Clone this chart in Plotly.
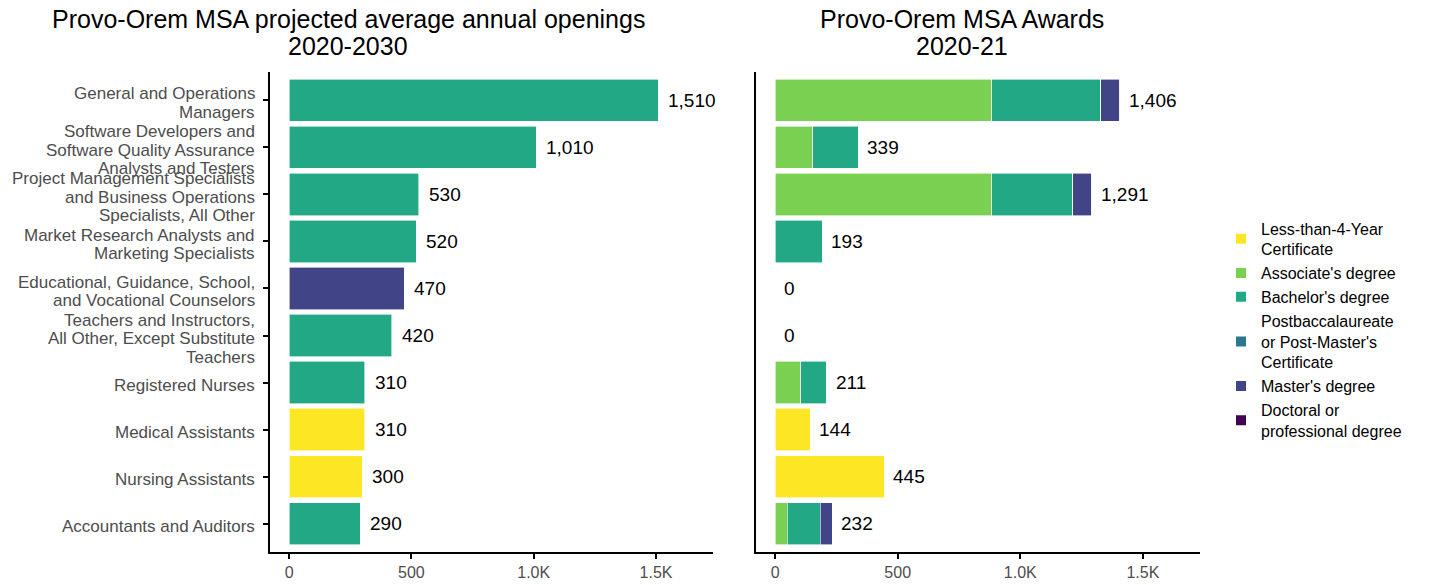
import plotly.graph_objects as go

W, H = 1430, 585

occupations = [
    "General and Operations<br>Managers",
    "Software Developers and<br>Software Quality Assurance<br>Analysts and Testers",
    "Project Management Specialists<br>and Business Operations<br>Specialists, All Other",
    "Market Research Analysts and<br>Marketing Specialists",
    "Educational, Guidance, School,<br>and Vocational Counselors",
    "Teachers and Instructors,<br>All Other, Except Substitute<br>Teachers",
    "Registered Nurses",
    "Medical Assistants",
    "Nursing Assistants",
    "Accountants and Auditors",
]

openings = [1510, 1010, 530, 520, 470, 420, 310, 310, 300, 290]
opening_level = ["Bachelor's degree", "Bachelor's degree", "Bachelor's degree", "Bachelor's degree",
                 "Master's degree", "Bachelor's degree", "Bachelor's degree",
                 "Less-than-4-Year Certificate", "Less-than-4-Year Certificate", "Bachelor's degree"]

levels = ["Less-than-4-Year Certificate", "Associate's degree", "Bachelor's degree",
          "Postbaccalaureate or Post-Master's Certificate", "Master's degree",
          "Doctoral or professional degree"]
level_labels = ["Less-than-4-Year<br>Certificate", "Associate's degree", "Bachelor's degree",
                "Postbaccalaureate<br>or Post-Master's<br>Certificate", "Master's degree",
                "Doctoral or<br>professional degree"]
level_colors = ["#FDE725", "#7AD151", "#22A884", "#2A788E", "#414487", "#440154"]

awards_less4 = [0, 0, 0, 0, 0, 0, 0, 144, 445, 0]
awards_assoc = [883, 154, 883, 0, 0, 0, 105, 0, 0, 49]
awards_bach = [446, 185, 331, 193, 0, 0, 106, 0, 0, 135]
awards_postbacc = [0, 0, 0, 0, 0, 0, 0, 0, 0, 0]
awards_master = [77, 0, 77, 0, 0, 0, 0, 0, 0, 48]
awards_doctoral = [0, 0, 0, 0, 0, 0, 0, 0, 0, 0]
awards_total = [1406, 339, 1291, 193, 0, 0, 211, 144, 445, 232]

award_series = [awards_less4, awards_assoc, awards_bach, awards_postbacc, awards_master, awards_doctoral]

tick_vals = [0, 500, 1000, 1500]
tick_text = ["0", "500", "1.0K", "1.5K"]

title_left = ["Provo-Orem MSA projected average annual openings", "2020-2030"]
title_right = ["Provo-Orem MSA Awards", "2020-21"]

color_of = dict(zip(levels, level_colors))

fig = go.Figure()

fig.add_trace(go.Bar(
    y=occupations, x=openings, orientation="h",
    marker=dict(color=[color_of[l] for l in opening_level], line=dict(color="white", width=0.6)),
    width=0.9, showlegend=False, xaxis="x", yaxis="y", hoverinfo="x+y",
))

for lab, col, vals in zip(level_labels, level_colors, award_series):
    fig.add_trace(go.Bar(
        y=occupations, x=vals, orientation="h", name=lab,
        marker=dict(color=col, line=dict(color="white", width=0.6)),
        width=0.9, xaxis="x2", yaxis="y2",
    ))

# value labels
for occ, v in zip(occupations, openings):
    fig.add_annotation(x=v, y=occ, xref="x", yref="y", text=f"{v:,}", showarrow=False,
                       xanchor="left", xshift=8, font=dict(size=19, color="black"))
for occ, v in zip(occupations, awards_total):
    fig.add_annotation(x=v, y=occ, xref="x2", yref="y2", text=f"{v:,}", showarrow=False,
                       xanchor="left", xshift=7, font=dict(size=19, color="black"))

# category labels (one text per line, tight line spacing as in the reference)
LINE = 18.5
for occ in occupations:
    parts = occ.split("<br>")
    n = len(parts)
    for i, part in enumerate(parts):
        fig.add_annotation(x=257 / W, y=occ, xref="paper", yref="y", text=part, showarrow=False,
                           xanchor="right", yanchor="middle",
                           yshift=-(i - (n - 1) / 2) * LINE - 3,
                           font=dict(size=17, color="#4D4D4D"))

# titles
for cx, lines in ((348, title_left), (962, title_right)):
    for cy, line in zip((19, 46), lines):
        fig.add_annotation(x=cx / W, y=1 - cy / H, xref="paper", yref="paper",
                           xanchor="center", yanchor="middle", text=line,
                           showarrow=False, font=dict(size=25, color="black"))

xr = [-78, 1733]
yr = [9.6, -0.6]
ydom = [(H - 552) / H, (H - 72) / H]
axis_common = dict(showgrid=False, zeroline=False, showline=True, linecolor="black", linewidth=2)

fig.update_layout(
    width=W, height=H,
    margin=dict(l=0, r=0, t=0, b=0, autoexpand=False),
    paper_bgcolor="white", plot_bgcolor="white",
    font=dict(family="Liberation Sans, Arial, sans-serif", size=16, color="#4D4D4D"),
    barmode="stack", bargap=0.1,
    xaxis=dict(domain=[270 / W, 713 / W], range=xr, tickvals=tick_vals, ticktext=tick_text,
               ticks="outside", ticklen=5, tickwidth=1.5, tickcolor="black",
               tickfont=dict(size=16, color="#4D4D4D"), anchor="y", automargin=False, **axis_common),
    yaxis=dict(domain=ydom, range=yr, type="category", ticks="outside", ticklen=5, tickwidth=1.5,
               tickcolor="black", showticklabels=False, anchor="x",
               automargin=False, **axis_common),
    xaxis2=dict(domain=[756 / W, 1200 / W], range=xr, tickvals=tick_vals, ticktext=tick_text,
                ticks="outside", ticklen=5, tickwidth=1.5, tickcolor="black",
                tickfont=dict(size=16, color="#4D4D4D"), anchor="y2", automargin=False, **axis_common),
    yaxis2=dict(domain=ydom, range=yr, type="category", showticklabels=False, ticks="",
                anchor="x2", automargin=False, **axis_common),
    legend=dict(x=1221 / W, y=1 - 330 / H, xanchor="left", yanchor="middle",
                font=dict(size=16, color="black"), traceorder="normal",
                tracegroupgap=0, itemsizing="constant", bgcolor="rgba(0,0,0,0)"),
)

fig.write_html("out.html", config={"displayModeBar": False},
               post_script="document.body.style.margin='0';")
